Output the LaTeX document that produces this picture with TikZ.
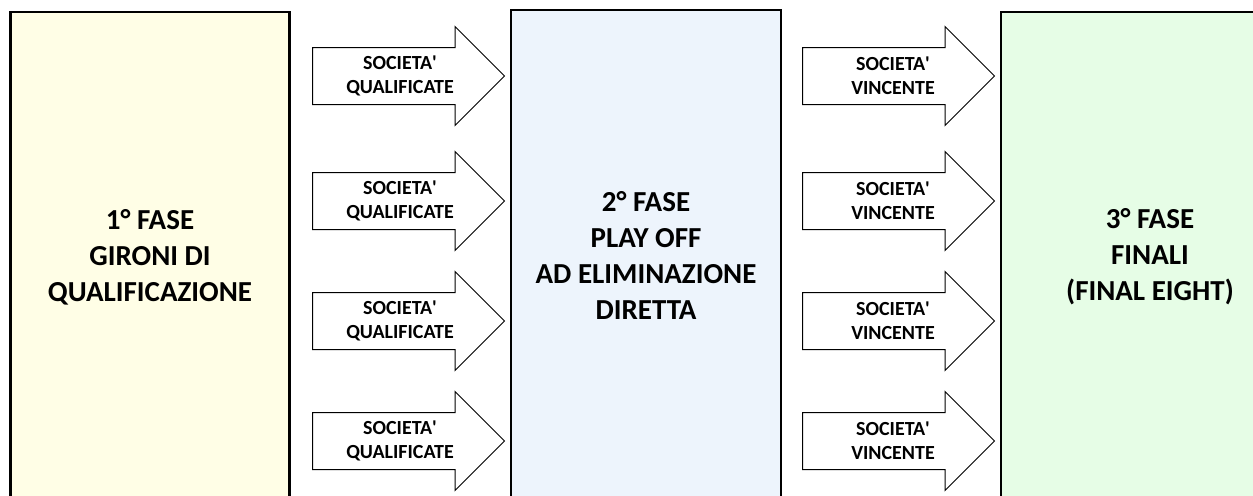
\documentclass[tikz,border=0pt]{standalone}
\usepackage{fontspec}
\setmainfont{Carlito}
\usetikzlibrary{shapes.arrows}

\definecolor{fasegialla}{HTML}{FFFEE6}
\definecolor{faseazzurra}{HTML}{EDF4FC}
\definecolor{faseverde}{HTML}{E6FDE6}

\tikzset{
	fase/.style={draw, line width=1.4pt, minimum width=279, minimum height=245pt,
		align=center, font=\fontsize{14.5}{18}\selectfont\bfseries, inner sep=0pt},
	freccia/.style={draw, line width=0.5pt, fill=white, single arrow, anchor=tail,
		single arrow head extend=10.5pt, single arrow tip angle=90,
		inner xsep=0pt, inner ysep=14pt, minimum height=96pt},
	testo/.style={align=center, font=\fontsize{10}{12}\selectfont\bfseries, inner sep=0pt}
}

\begin{document}
\begin{tikzpicture}[x=0.5pt, y=-0.5pt]
			\useasboundingbox (0,0) rectangle (1253,495);
			\clip (0,0) rectangle (1253,495);
			% le tre fasi
			\node[fase, fill=fasegialla, minimum width=139.5pt] (fase1) at (150,257)
				{1° FASE\\GIRONI DI\\QUALIFICAZIONE};
			\node[fase, fill=faseazzurra, minimum width=135pt] (fase2) at (646,255)
				{2° FASE\\PLAY OFF\\AD ELIMINAZIONE\\DIRETTA};
			\node[fase, fill=faseverde, minimum width=149pt] (fase3) at (1150,257)
				{3° FASE\\FINALI\\(FINAL EIGHT)};
			% frecce
			\foreach \y [count=\i] in {76, 201, 321, 441} {
				\node[freccia] (qual\i) at (312,\y) {};
				\node[testo] (tqual\i) at (400,\y) {SOCIETA\textquotesingle\\QUALIFICATE};
				\node[freccia] (vinc\i) at (802,\y) {};
				\node[testo] (tvinc\i) at (893,\y) {SOCIETA\textquotesingle\\VINCENTE};
			}
		\end{tikzpicture}
\end{document}
